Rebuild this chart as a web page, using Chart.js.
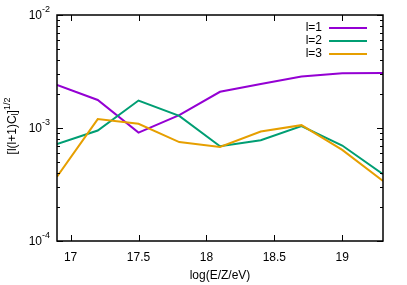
<!DOCTYPE html>
<html>
<head>
<meta charset="utf-8">
<script src="https://cdn.jsdelivr.net/npm/chart.js@4.4.1/dist/chart.umd.min.js"></script>
<style>
  html, body { margin: 0; padding: 0; background: #fff; }
  #wrap { width: 407px; height: 285px; }
</style>
</head>
<body>
<div id="wrap"><canvas id="myChart" width="407" height="285"></canvas></div>
<script>
// data
const xValues = [16.9, 17.2, 17.5, 17.8, 18.1, 18.4, 18.7, 19.0, 19.3];
const l1 = [2.40e-3, 1.77e-3, 9.1e-4, 1.30e-3, 2.09e-3, 2.45e-3, 2.85e-3, 3.05e-3, 3.07e-3];
const l2 = [7.2e-4, 9.5e-4, 1.75e-3, 1.28e-3, 6.9e-4, 7.8e-4, 1.04e-3, 7.0e-4, 3.9e-4];
const l3 = [3.7e-4, 1.20e-3, 1.09e-3, 7.5e-4, 6.8e-4, 9.3e-4, 1.06e-3, 6.4e-4, 3.4e-4];
const seriesLabels = ['l=1', 'l=2', 'l=3'];
const seriesColors = ['#9400D3', '#009E73', '#E69F00'];
const xTicks = [17, 17.5, 18, 18.5, 19];
const yExponents = [-4, -3, -2];

const FONT = 'Liberation Sans, Arial, sans-serif';

function pts(arr) {
  return arr.map((v, i) => ({ x: xValues[i], y: v }));
}

// y ticks: decades plus minor 2..9
const yTickVals = [];
yExponents.forEach((e, i) => {
  yTickVals.push(Math.pow(10, e));
  if (i < yExponents.length - 1) {
    for (let m = 2; m <= 9; m++) yTickVals.push(m * Math.pow(10, e));
  }
});

// gnuplot-like frame, inward ticks, superscript labels, legend
const gnuPlot = {
  id: 'gnuPlot',
  afterDraw(chart) {
    const ctx = chart.ctx;
    const a = chart.chartArea;
    const xs = chart.scales.x, ys = chart.scales.y;
    ctx.save();
    ctx.strokeStyle = '#000';
    ctx.lineWidth = 1;

    // x ticks bottom + top
    xTicks.forEach(v => {
      const px = Math.round(xs.getPixelForValue(v)) + 0.5;
      ctx.beginPath();
      ctx.moveTo(px, a.bottom); ctx.lineTo(px, a.bottom - 6);
      ctx.moveTo(px, a.top); ctx.lineTo(px, a.top + 6);
      ctx.stroke();
    });
    // y ticks left + right
    yTickVals.forEach(v => {
      const py = Math.round(ys.getPixelForValue(v)) + 0.5;
      const exp = Math.log10(v);
      const len = Math.abs(exp - Math.round(exp)) < 1e-9 ? 6 : 3;
      ctx.beginPath();
      ctx.moveTo(a.left, py); ctx.lineTo(a.left + len, py);
      ctx.moveTo(a.right, py); ctx.lineTo(a.right - len, py);
      ctx.stroke();
    });
    // frame
    ctx.lineWidth = 1.5;
    ctx.strokeRect(a.left, a.top, a.right - a.left, a.bottom - a.top);

    // y tick labels 10^n
    ctx.fillStyle = '#000';
    ctx.textBaseline = 'middle';
    yExponents.forEach(e => {
      const py = ys.getPixelForValue(Math.pow(10, e));
      ctx.font = '9px ' + FONT;
      const sup = String(e);
      const sw = ctx.measureText(sup).width;
      ctx.textAlign = 'right';
      const right = a.left - 7;
      ctx.fillText(sup, right, py - 5);
      ctx.font = '12px ' + FONT;
      ctx.fillText('10', right - sw, py + 1);
    });

    // y axis title [l(l+1)C_l]^{1/2}
    ctx.save();
    ctx.translate(13, (a.top + a.bottom) / 2 - 2);
    ctx.rotate(-Math.PI / 2);
    const parts = [
      { t: '[l(l+1)C', f: 12, dy: 0 },
      { t: 'l', f: 9, dy: 3 },
      { t: ']', f: 12, dy: 0 },
      { t: '1/2', f: 9, dy: -5 }
    ];
    let total = 0;
    parts.forEach(p => { ctx.font = p.f + 'px ' + FONT; p.w = ctx.measureText(p.t).width; total += p.w; });
    let x0 = -total / 2;
    ctx.textAlign = 'left';
    ctx.textBaseline = 'middle';
    parts.forEach(p => {
      ctx.font = p.f + 'px ' + FONT;
      ctx.fillText(p.t, x0, p.dy);
      x0 += p.w;
    });
    ctx.restore();

    // legend, text right-aligned left of the line sample
    chart.data.datasets.forEach((ds, i) => {
      const y = a.top + 13 + i * 13;
      ctx.font = '12px ' + FONT;
      ctx.textAlign = 'right';
      ctx.textBaseline = 'middle';
      ctx.fillStyle = '#000';
      ctx.fillText(ds.label, 322, y);
      ctx.strokeStyle = ds.borderColor;
      ctx.lineWidth = 2;
      ctx.beginPath();
      ctx.moveTo(329, y); ctx.lineTo(367, y);
      ctx.stroke();
    });
    ctx.restore();
  }
};

const ctx = document.getElementById('myChart').getContext('2d');
const chart = new Chart(ctx, {
  type: 'line',
  data: {
    datasets: [
      { label: seriesLabels[0], data: pts(l1), borderColor: seriesColors[0], order: 2 },
      { label: seriesLabels[1], data: pts(l2), borderColor: seriesColors[1], order: 1 },
      { label: seriesLabels[2], data: pts(l3), borderColor: seriesColors[2], order: 0 }
    ]
  },
  options: {
    responsive: false,
    animation: false,
    devicePixelRatio: 1,
    layout: { padding: { left: 0, right: 24, top: 15, bottom: 0 } },
    elements: {
      line: { borderWidth: 2, tension: 0, fill: false },
      point: { radius: 0 }
    },
    plugins: { legend: { display: false }, tooltip: { enabled: false } },
    scales: {
      x: {
        type: 'linear',
        min: 16.9,
        max: 19.3,
        grid: { display: false, drawTicks: false },
        border: { display: false },
        afterBuildTicks: s => { s.ticks = xTicks.map(v => ({ value: v })); },
        afterFit: s => { s.height = 44; },
        ticks: {
          color: '#000',
          font: { family: FONT, size: 12 },
          padding: 9,
          maxRotation: 0,
          autoSkip: false,
          callback: v => String(v)
        },
        title: {
          display: true,
          text: 'log(E/Z/eV)',
          color: '#000',
          font: { family: FONT, size: 12 },
          padding: { top: 1, bottom: 2 }
        }
      },
      y: {
        type: 'logarithmic',
        min: 1e-4,
        max: 1e-2,
        grid: { display: false },
        border: { display: false },
        afterBuildTicks: s => { s.ticks = yTickVals.map(v => ({ value: v })); },
        afterFit: s => { s.width = 57; },
        ticks: { display: false }
      }
    }
  },
  plugins: [gnuPlot]
});
</script>
</body>
</html>
